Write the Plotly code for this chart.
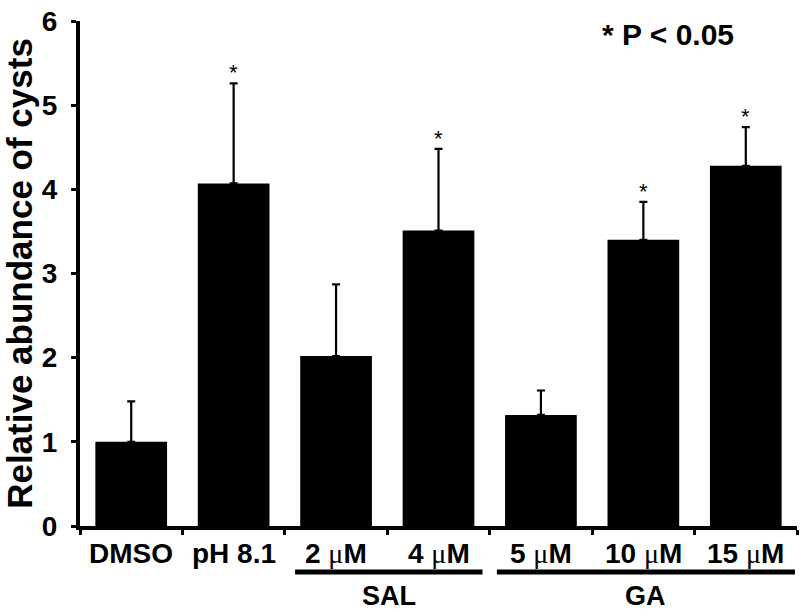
import plotly.graph_objects as go

categories = ["DMSO", "pH 8.1", "2 μM", "4 μM", "5 μM", "10 μM", "15 μM"]
values = [1.00, 4.07, 2.02, 3.51, 1.32, 3.40, 4.28]
errors = [0.48, 1.19, 0.85, 0.97, 0.29, 0.45, 0.46]
significant = [False, True, False, True, False, True, True]
groups = [("SAL", 1.6, 3.43), ("GA", 3.57, 6.48)]
y_ticks = [0, 1, 2, 3, 4, 5, 6]

FONT = "Liberation Sans"
MU = '<span style="font-family:\'Liberation Serif\';font-weight:normal">μ</span>'

x = list(range(len(categories)))

fig = go.Figure()
fig.add_trace(go.Bar(
    x=x, y=values,
    marker=dict(color="black", line=dict(width=0)),
    width=0.7,
    error_y=dict(type="data", array=errors, arrayminus=[0] * len(errors),
                 symmetric=False, color="black", thickness=2.2, width=4),
    hoverinfo="skip",
))

annotations = []
for i, c in enumerate(categories):
    label = c.replace("μ", MU)
    annotations.append(dict(
        x=i, xref="x", y=0, yref="paper", yshift=-27, yanchor="middle",
        text=label, showarrow=False,
        font=dict(family=FONT, size=28, color="black", weight="bold"),
    ))
    if significant[i]:
        annotations.append(dict(
            x=i, xref="x", y=values[i] + errors[i], yref="y", yanchor="bottom",
            yshift=-4, text="*", showarrow=False,
            font=dict(family=FONT, size=22, color="black"),
        ))

shapes = []
for name, x0, x1 in groups:
    shapes.append(dict(type="line", xref="x", yref="paper", x0=x0, x1=x1,
                       y0=-0.091, y1=-0.091, line=dict(color="black", width=5)))
    annotations.append(dict(
        x=(x0 + x1) / 2, xref="x", y=-0.139, yref="paper", yanchor="middle",
        text=name, showarrow=False,
        font=dict(family=FONT, size=27, color="black", weight="bold"),
    ))

annotations.append(dict(
    x=0.82, xref="paper", y=0.974, yref="paper", xanchor="center", yanchor="middle",
    text="* P < 0.05", showarrow=False,
    font=dict(family=FONT, size=30, color="black", weight="bold"),
))

fig.update_layout(
    width=802, height=612,
    margin=dict(l=80, r=5, t=21, b=86),
    plot_bgcolor="white", paper_bgcolor="white",
    showlegend=False,
    annotations=annotations,
    shapes=shapes,
    xaxis=dict(
        range=[-0.5, 6.5],
        tickmode="array",
        tickvals=[i - 0.5 for i in range(len(categories) + 1)],
        ticktext=[""] * (len(categories) + 1),
        ticks="outside", ticklen=5, tickwidth=3, tickcolor="black",
        showline=True, linecolor="black", linewidth=4,
        showgrid=False, zeroline=False, automargin=False,
    ),
    yaxis=dict(
        range=[0, 6],
        tickmode="array", tickvals=y_ticks,
        ticks="outside", ticklen=5, tickwidth=3, tickcolor="black",
        ticklabelstandoff=8,
        tickfont=dict(family=FONT, size=28, color="black", weight="bold"),
        showline=True, linecolor="black", linewidth=4,
        showgrid=False, zeroline=False, automargin=False,
        title=dict(text="Relative abundance of cysts", standoff=32,
                   font=dict(family=FONT, size=35, color="black", weight="bold")),
    ),
)

fig.write_html(
    "out.html",
    config={"displayModeBar": False},
    post_script="document.body.style.margin='0';document.body.style.overflow='hidden';",
)
